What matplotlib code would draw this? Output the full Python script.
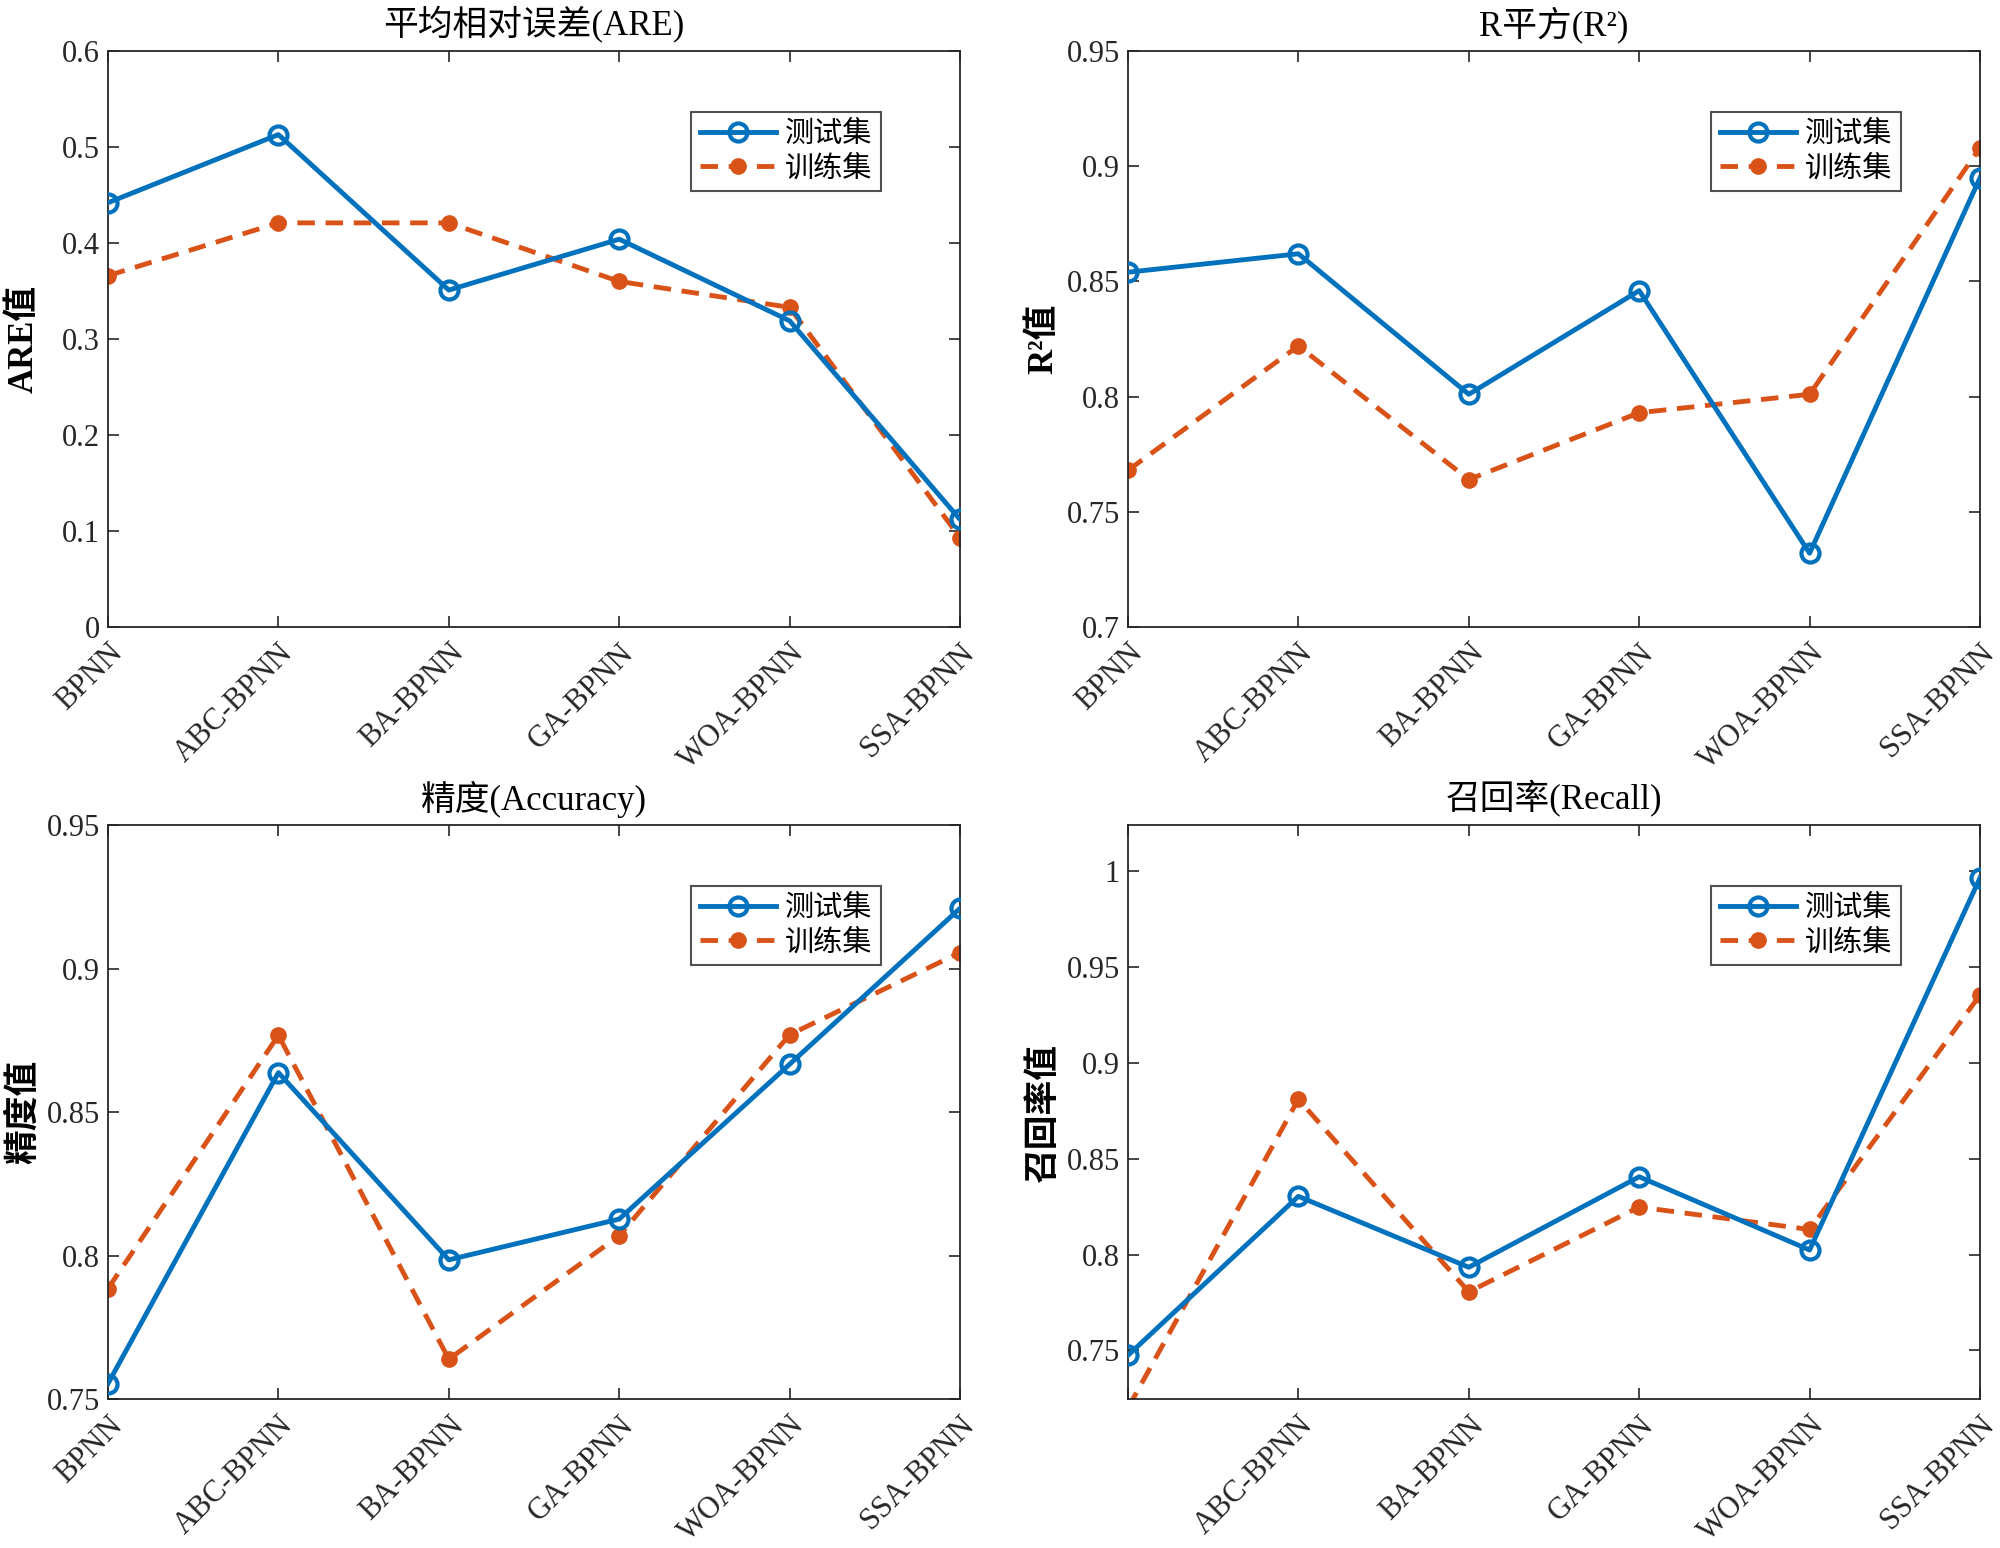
import numpy as np
import matplotlib
matplotlib.use("Agg")
import matplotlib.pyplot as plt

plt.rcParams['font.family'] = ['Liberation Serif', 'Noto Sans CJK SC', 'DejaVu Sans']

# models on the x axis
models = ["BPNN", "ABC-BPNN", "BA-BPNN", "GA-BPNN", "WOA-BPNN", "SSA-BPNN"]

# values: test set / training set
are_test = [0.442, 0.513, 0.351, 0.404, 0.319, 0.112]
are_train = [0.366, 0.421, 0.421, 0.360, 0.333, 0.093]

r2_test = [0.854, 0.862, 0.801, 0.846, 0.732, 0.895]
r2_train = [0.768, 0.822, 0.764, 0.793, 0.801, 0.908]

acc_test = [0.7555, 0.8638, 0.7986, 0.8128, 0.8667, 0.921]
acc_train = [0.7886, 0.8768, 0.764, 0.807, 0.877, 0.9056]

rec_test = [0.7475, 0.8304, 0.7934, 0.8406, 0.8024, 0.9965]
rec_train = [0.720, 0.881, 0.7806, 0.8248, 0.8131, 0.9354]

titles = ["平均相对误差(ARE)", "R平方(R²)", "精度(Accuracy)", "召回率(Recall)"]
ylabels = ["ARE值", "R²值", "精度值", "召回率值"]
legend_labels = ["测试集", "训练集"]

blue = "#0072BD"
orange = "#D95319"

fig = plt.figure(figsize=(20, 15.48), dpi=100)

# axes positions [left, bottom, width, height]
positions = [
    [0.054, 0.595, 0.426, 0.372],
    [0.564, 0.595, 0.426, 0.372],
    [0.054, 0.096, 0.426, 0.371],
    [0.564, 0.096, 0.426, 0.371],
]
ylims = [(0, 0.6), (0.7, 0.95), (0.75, 0.95), (0.7245, 1.024)]
yticks = [np.arange(0, 0.61, 0.1), np.arange(0.7, 0.951, 0.05),
          np.arange(0.75, 0.951, 0.05), np.arange(0.75, 1.001, 0.05)]
ytick_labels = [["0", "0.1", "0.2", "0.3", "0.4", "0.5", "0.6"],
                ["0.7", "0.75", "0.8", "0.85", "0.9", "0.95"],
                ["0.75", "0.8", "0.85", "0.9", "0.95"],
                ["0.75", "0.8", "0.85", "0.9", "0.95", "1"]]
series = [(are_test, are_train), (r2_test, r2_train),
          (acc_test, acc_train), (rec_test, rec_train)]

x = np.arange(len(models))

for i in range(4):
    ax = fig.add_axes(positions[i])
    test, train = series[i]
    ax.plot(x, test, color=blue, lw=3.5, marker='o', ms=13, mfc='none',
            mew=3, label=legend_labels[0], zorder=3)
    ax.plot(x, train, color=orange, lw=3.5, ls=(0, (3.6, 2.2)), marker='o', ms=11,
            mfc=orange, mec=orange, label=legend_labels[1], zorder=2)
    ax.set_xlim(0, len(models) - 1)
    ax.set_ylim(*ylims[i])
    ax.set_yticks(yticks[i])
    ax.set_yticklabels(ytick_labels[i])
    ax.set_xticks(x)
    if i == 3:
        ax.set_xticklabels([""] + models[1:])
    else:
        ax.set_xticklabels(models)
    for lab in ax.get_xticklabels():
        lab.set_rotation(45)
        lab.set_ha('right')
        lab.set_va('top')
        lab.set_rotation_mode('anchor')
        lab.set_fontsize(21)
    ax.tick_params(direction='in', top=True, right=True, length=8, width=1.2,
                   labelsize=22, pad=6, colors='#262626')
    ax.tick_params(axis='x', pad=8)
    for sp in ax.spines.values():
        sp.set_linewidth(1.3)
        sp.set_color('#262626')
    ax.set_title(titles[i], fontsize=25, pad=11)
    ax.set_ylabel(ylabels[i], fontsize=25, fontweight='bold')
    ax.yaxis.set_label_coords(-0.079, 0.5)
    leg = ax.legend(loc='upper right', bbox_to_anchor=(0.907, 0.894), fontsize=21,
                    frameon=True, fancybox=False, edgecolor='#262626',
                    handlelength=2.6, borderpad=0.3, labelspacing=0.25,
                    handletextpad=0.3, borderaxespad=0)
    leg.get_frame().set_linewidth(1.5)

fig.savefig("out.png", dpi=100)
